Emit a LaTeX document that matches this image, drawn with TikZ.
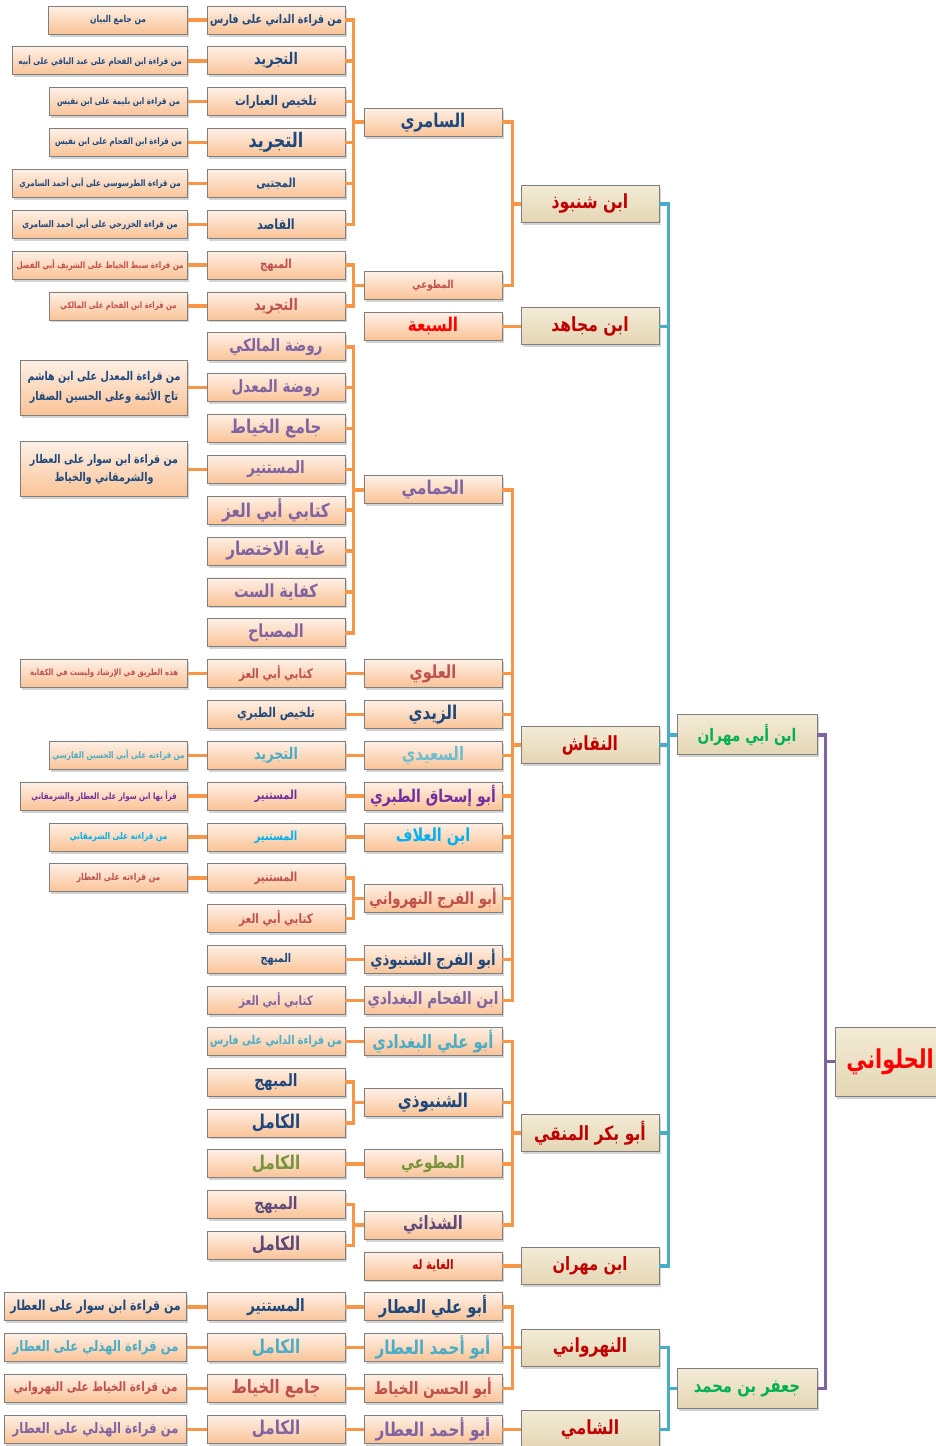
\documentclass[tikz,border=0pt]{standalone}
\usepackage{fontspec}
\newfontfamily\arabicfont[Script=Arabic, FakeStretch=0.8]{DejaVu Sans}
\TeXXeTstate=1
\usetikzlibrary{positioning, shadows}

\definecolor{darkblue}{HTML}{1F497D}
\definecolor{redc}{HTML}{C0504D}
\definecolor{lblue}{HTML}{4BACC6}
\definecolor{purp}{HTML}{8064A2}
\definecolor{vio}{HTML}{7030A0}
\definecolor{cyanc}{HTML}{00B0F0}
\definecolor{grn}{HTML}{77933C}
\definecolor{dpurp}{HTML}{5F497A}
\definecolor{dred}{HTML}{C00000}
\definecolor{brred}{HTML}{FF0000}
\definecolor{grnb}{HTML}{00B050}
\definecolor{lineO}{HTML}{F79646}
\definecolor{lineB}{HTML}{4BACC6}
\definecolor{lineP}{HTML}{8064A2}
\definecolor{peachtop}{HTML}{FEF0E6}
\definecolor{peachbot}{HTML}{FAC396}
\definecolor{papertop}{HTML}{F3EBD6}
\definecolor{paperbot}{HTML}{E4D6B4}
\definecolor{boxline}{HTML}{7F7F7F}

\newcommand{\artext}[1]{\beginR #1\endR}

\begin{document}
\begin{tikzpicture}[
    % GLOBAL CFG
    x=1pt, y=-1pt,
    font=\arabicfont\bfseries,
    % Styles
    box/.style={% peach boxes of books and readers
        rectangle,
        draw=boxline,
        line width=0.8pt,
        top color=peachtop,
        bottom color=peachbot,
        minimum width=138pt,
        minimum height=28pt,
        inner sep=0pt,
        drop shadow={opacity=.35, shadow xshift=1.5pt, shadow yshift=-2.5pt},
        },
    note/.style={% notes on the left, tied at their right side
        box,
        anchor=east,
        },
    paper/.style={% parchment boxes of the big names
        rectangle,
        draw=boxline,
        line width=0.8pt,
        top color=papertop,
        bottom color=paperbot,
        minimum width=138pt,
        minimum height=37pt,
        inner sep=0pt,
        drop shadow={opacity=.35, shadow xshift=1.5pt, shadow yshift=-2.5pt},
        },
    fsz/.style={% font size
        font=\arabicfont\bfseries\fontsize{#1}{#1}\selectfont
        },
    LinkO/.style={% orange links
        draw=lineO,
        line width=3.5pt,
        },
    LinkB/.style={% blue links
        draw=lineB,
        line width=3.5pt,
        },
    LinkP/.style={% purple links
        draw=lineP,
        line width=3.5pt,
        },
    ]

    \useasboundingbox (0,0) rectangle (936,1446);

    \newcommand{\rowh}{40.85}

    % Notes on the left
    \node[note, fsz=9.5, minimum width=139pt, text=darkblue] (nt_0) at (188,20+0*\rowh) {\artext{من جامع البيان}};
    \node[note, fsz=9, minimum width=175pt, text=darkblue] (nt_1) at (188,20+1*\rowh) {\artext{من قراءة ابن الفحام على عبد الباقي على أبيه}};
    \node[note, fsz=9, text=darkblue] (nt_2) at (188,20+2*\rowh) {\artext{من قراءة ابن بليمة على ابن نفيس}};
    \node[note, fsz=8.9, text=darkblue] (nt_3) at (188,20+3*\rowh) {\artext{من قراءة ابن الفحام على ابن نفيس}};
    \node[note, fsz=8.9, minimum width=175pt, text=darkblue] (nt_4) at (188,20+4*\rowh) {\artext{من قراءة الطرسوسي على أبي أحمد السامري}};
    \node[note, fsz=9.2, minimum width=175pt, text=darkblue] (nt_5) at (188,20+5*\rowh) {\artext{من قراءة الخزرجي على أبي أحمد السامري}};
    \node[note, fsz=8.9, minimum width=175pt, text=redc] (nt_6) at (188,20+6*\rowh) {\artext{من قراءة سبط الخياط على الشريف أبي الفضل}};
    \node[note, fsz=8.7, text=redc] (nt_7) at (188,20+7*\rowh) {\artext{من قراءة ابن الفحام على المالكي}};
    \node[note, fsz=12, minimum width=167pt, minimum height=55pt, align=center, text=darkblue] (nt_9) at (188,20+9*\rowh) {\artext{من قراءة المعدل على ابن هاشم}\\[5pt]\artext{تاج الأئمة وعلى الحسين الصفار}};
    \node[note, fsz=12, minimum width=167pt, minimum height=55pt, align=center, text=darkblue] (nt_11) at (188,20+11*\rowh) {\artext{من قراءة ابن سوار على العطار}\\[5pt]\artext{والشرمقاني والخياط}};
    \node[note, fsz=8.7, minimum width=167pt, text=redc] (nt_16) at (188,20+16*\rowh) {\artext{هذه الطريق في الإرشاد وليست في الكفاية}};
    \node[note, fsz=9, text=lblue] (nt_18) at (188,20+18*\rowh) {\artext{من قراءته على أبي الحسين الفارسي}};
    \node[note, fsz=8.8, minimum width=167pt, text=vio] (nt_19) at (188,20+19*\rowh) {\artext{قرأ بها ابن سوار على العطار والشرمقاني}};
    \node[note, fsz=9.2, text=cyanc] (nt_20) at (188,20+20*\rowh) {\artext{من قراءته على الشرمقاني}};
    \node[note, fsz=9.5, text=redc] (nt_21) at (188,20+21*\rowh) {\artext{من قراءته على العطار}};
    \node[note, fsz=13.8, minimum width=182pt, text=darkblue] (nt_31) at (187,20+31.5*\rowh) {\artext{من قراءة ابن سوار على العطار}};
    \node[note, fsz=14.5, minimum width=182pt, text=lblue] (nt_32) at (187,20+32.5*\rowh) {\artext{من قراءة الهذلي على العطار}};
    \node[note, fsz=13, minimum width=182pt, text=redc] (nt_33) at (187,20+33.5*\rowh) {\artext{من قراءة الخياط على النهرواني}};
    \node[note, fsz=14.5, minimum width=182pt, text=purp] (nt_34) at (187,20+34.5*\rowh) {\artext{من قراءة الهذلي على العطار}};

    % Books
    \node[box, fsz=12, text=darkblue] (dani_1) at (276,20+0*\rowh) {\artext{من قراءة الداني على فارس}};
    \node[box, fsz=16, text=darkblue] (tajrid_1) at (276,20+1*\rowh) {\artext{التجريد}};
    \node[box, fsz=13.4, text=darkblue] (talkhis_ib) at (276,20+2*\rowh) {\artext{تلخيص العبارات}};
    \node[box, fsz=20, text=darkblue] (tajrid_2) at (276,20+3*\rowh) {\artext{التجريد}};
    \node[box, fsz=12.5, text=darkblue] (mujtaba) at (276,20+4*\rowh) {\artext{المجتبى}};
    \node[box, fsz=14, text=darkblue] (qasid) at (276,20+5*\rowh) {\artext{القاصد}};
    \node[box, fsz=12.5, text=redc] (mubhij_1) at (276,20+6*\rowh) {\artext{المبهج}};
    \node[box, fsz=16, text=redc] (tajrid_3) at (276,20+7*\rowh) {\artext{التجريد}};
    \node[box, fsz=17, text=purp] (rawda_m) at (276,20+8*\rowh) {\artext{روضة المالكي}};
    \node[box, fsz=17, text=purp] (rawda_mu) at (276,20+9*\rowh) {\artext{روضة المعدل}};
    \node[box, fsz=19, text=purp] (jami_1) at (276,20+10*\rowh) {\artext{جامع الخياط}};
    \node[box, fsz=17, text=purp] (mustanir_1) at (276,20+11*\rowh) {\artext{المستنير}};
    \node[box, fsz=19, text=purp] (izz_1) at (276,20+12*\rowh) {\artext{كتابي أبي العز}};
    \node[box, fsz=19, text=purp] (ghaya_ikh) at (276,20+13*\rowh) {\artext{غاية الاختصار}};
    \node[box, fsz=18, text=purp] (kifaya) at (276,20+14*\rowh) {\artext{كفاية الست}};
    \node[box, fsz=18, text=purp] (misbah) at (276,20+15*\rowh) {\artext{المصباح}};
    \node[box, fsz=13, text=redc] (izz_2) at (276,20+16*\rowh) {\artext{كتابي أبي العز}};
    \node[box, fsz=13.4, text=darkblue] (talkhis_tab) at (276,20+17*\rowh) {\artext{تلخيص الطبري}};
    \node[box, fsz=16, text=lblue] (tajrid_4) at (276,20+18*\rowh) {\artext{التجريد}};
    \node[box, fsz=12.5, text=vio] (mustanir_2) at (276,20+19*\rowh) {\artext{المستنير}};
    \node[box, fsz=12.5, text=cyanc] (mustanir_3) at (276,20+20*\rowh) {\artext{المستنير}};
    \node[box, fsz=12.5, text=redc] (mustanir_4) at (276,20+21*\rowh) {\artext{المستنير}};
    \node[box, fsz=13, text=redc] (izz_3) at (276,20+22*\rowh) {\artext{كتابي أبي العز}};
    \node[box, fsz=12, text=darkblue] (mubhij_2) at (276,20+23*\rowh) {\artext{المبهج}};
    \node[box, fsz=13, text=purp] (izz_4) at (276,20+24*\rowh) {\artext{كتابي أبي العز}};
    \node[box, fsz=12, text=lblue] (dani_2) at (276,20+25*\rowh) {\artext{من قراءة الداني على فارس}};
    \node[box, fsz=17, text=darkblue] (mubhij_3) at (276,20+26*\rowh) {\artext{المبهج}};
    \node[box, fsz=19, text=darkblue] (kamil_1) at (276,20+27*\rowh) {\artext{الكامل}};
    \node[box, fsz=19, text=grn] (kamil_2) at (276,20+28*\rowh) {\artext{الكامل}};
    \node[box, fsz=17, text=dpurp] (mubhij_4) at (276,20+29*\rowh) {\artext{المبهج}};
    \node[box, fsz=19, text=dpurp] (kamil_3) at (276,20+30*\rowh) {\artext{الكامل}};
    \node[box, fsz=17, text=darkblue] (mustanir_5) at (276,20+31.5*\rowh) {\artext{المستنير}};
    \node[box, fsz=19, text=lblue] (kamil_4) at (276,20+32.5*\rowh) {\artext{الكامل}};
    \node[box, fsz=18.5, text=redc] (jami_2) at (276,20+33.5*\rowh) {\artext{جامع الخياط}};
    \node[box, fsz=19, text=purp] (kamil_5) at (276,20+34.5*\rowh) {\artext{الكامل}};

    % Readers
    \node[box, fsz=19, text=darkblue] (samiri) at (433,20+2.5*\rowh) {\artext{السامري}};
    \node[box, fsz=11, text=redc] (mutawwi_1) at (433,20+6.5*\rowh) {\artext{المطوعي}};
    \node[box, fsz=19, text=brred] (sabaa) at (433,20+7.5*\rowh) {\artext{السبعة}};
    \node[box, fsz=19, text=purp] (hammami) at (433,20+11.5*\rowh) {\artext{الحمامي}};
    \node[box, fsz=18, text=redc] (alawi) at (433,20+16*\rowh) {\artext{العلوي}};
    \node[box, fsz=19, text=darkblue] (zaydi) at (433,20+17*\rowh) {\artext{الزيدي}};
    \node[box, fsz=18.5, text=lblue!80] (saidi) at (433,20+18*\rowh) {\artext{السعيدي}};
    \node[box, fsz=17.5, text=vio] (tabari) at (433,20+19*\rowh) {\artext{أبو إسحاق الطبري}};
    \node[box, fsz=18, text=cyanc] (allaf) at (433,20+20*\rowh) {\artext{ابن العلاف}};
    \node[box, fsz=16.6, text=redc] (nahrawani_f) at (433,20+21.5*\rowh) {\artext{أبو الفرج النهرواني}};
    \node[box, fsz=16.6, text=darkblue] (shanbudhi_f) at (433,20+23*\rowh) {\artext{أبو الفرج الشنبوذي}};
    \node[box, fsz=17, text=purp] (fahham) at (433,20+24*\rowh) {\artext{ابن الفحام البغدادي}};
    \node[box, fsz=18.5, text=lblue] (baghdadi) at (433,20+25*\rowh) {\artext{أبو علي البغدادي}};
    \node[box, fsz=19, text=darkblue] (shanbudhi) at (433,20+26.5*\rowh) {\artext{الشنبوذي}};
    \node[box, fsz=17, text=grn] (mutawwi_2) at (433,20+28*\rowh) {\artext{المطوعي}};
    \node[box, fsz=18.5, text=dpurp] (shadhai) at (433,20+29.5*\rowh) {\artext{الشذائي}};
    \node[box, fsz=13, text=dred] (ghaya_lahu) at (433,20+30.5*\rowh) {\artext{الغاية له}};
    \node[box, fsz=18.4, text=darkblue] (attar_ali) at (433,20+31.5*\rowh) {\artext{أبو علي العطار}};
    \node[box, fsz=19, text=lblue] (attar_ahmad_1) at (433,20+32.5*\rowh) {\artext{أبو أحمد العطار}};
    \node[box, fsz=17, text=redc] (khayyat) at (433,20+33.5*\rowh) {\artext{أبو الحسن الخياط}};
    \node[box, fsz=19, text=purp] (attar_ahmad_2) at (433,20+34.5*\rowh) {\artext{أبو أحمد العطار}};

    % Transmitters
    \node[paper, fsz=19.5, text=dred] (ibn_shanbudh) at (590,20+4.5*\rowh) {\artext{ابن شنبوذ}};
    \node[paper, fsz=19.5, text=dred] (ibn_mujahid) at (590,20+7.5*\rowh) {\artext{ابن مجاهد}};
    \node[paper, fsz=19.5, text=dred] (naqqash) at (590,20+17.75*\rowh) {\artext{النقاش}};
    \node[paper, fsz=19.5, text=dred] (munaqqi) at (590,20+27.25*\rowh) {\artext{أبو بكر المنقي}};
    \node[paper, fsz=18.5, text=dred] (ibn_mihran) at (590,20+30.5*\rowh) {\artext{ابن مهران}};
    \node[paper, fsz=19.5, text=dred] (nahrawani) at (590,20+32.5*\rowh) {\artext{النهرواني}};
    \node[paper, fsz=19.5, text=dred] (shami) at (590,20+34.5*\rowh) {\artext{الشامي}};

    % The two ways and the root
    \node[paper, fsz=17.3, minimum width=140pt, minimum height=40pt, text=grnb] (ibn_abi_mihran) at (747,20+17.5*\rowh) {\artext{ابن أبي مهران}};
    \node[paper, fsz=18.5, minimum width=140pt, minimum height=40pt, text=grnb] (jafar) at (747,20+33.5*\rowh) {\artext{جعفر بن محمد}};
    \node[paper, fsz=26, minimum width=110pt, minimum height=69pt, text=brred] (hulwani) at (890,20+25.5*\rowh) {\artext{الحلواني}};

% Start connecting all.
    % notes to books
    \draw [LinkO] (nt_0) -- (dani_1);
    \draw [LinkO] (nt_1) -- (tajrid_1);
    \draw [LinkO] (nt_2) -- (talkhis_ib);
    \draw [LinkO] (nt_3) -- (tajrid_2);
    \draw [LinkO] (nt_4) -- (mujtaba);
    \draw [LinkO] (nt_5) -- (qasid);
    \draw [LinkO] (nt_6) -- (mubhij_1);
    \draw [LinkO] (nt_7) -- (tajrid_3);
    \draw [LinkO] (nt_9) -- (rawda_mu);
    \draw [LinkO] (nt_11) -- (mustanir_1);
    \draw [LinkO] (nt_16) -- (izz_2);
    \draw [LinkO] (nt_18) -- (tajrid_4);
    \draw [LinkO] (nt_19) -- (mustanir_2);
    \draw [LinkO] (nt_20) -- (mustanir_3);
    \draw [LinkO] (nt_21) -- (mustanir_4);
    \draw [LinkO] (nt_31) -- (mustanir_5);
    \draw [LinkO] (nt_32) -- (kamil_4);
    \draw [LinkO] (nt_33) -- (jami_2);
    \draw [LinkO] (nt_34) -- (kamil_5);

    % books to readers
    \draw [LinkO] (dani_1.east) -- ++(8,0) |- (samiri.west);
    \draw [LinkO] (tajrid_1.east) -- ++(8,0) |- (samiri.west);
    \draw [LinkO] (talkhis_ib.east) -- ++(8,0) |- (samiri.west);
    \draw [LinkO] (tajrid_2.east) -- ++(8,0) |- (samiri.west);
    \draw [LinkO] (mujtaba.east) -- ++(8,0) |- (samiri.west);
    \draw [LinkO] (qasid.east) -- ++(8,0) |- (samiri.west);
    \draw [LinkO] (mubhij_1.east) -- ++(8,0) |- (mutawwi_1.west);
    \draw [LinkO] (tajrid_3.east) -- ++(8,0) |- (mutawwi_1.west);
    \draw [LinkO] (rawda_m.east) -- ++(8,0) |- (hammami.west);
    \draw [LinkO] (rawda_mu.east) -- ++(8,0) |- (hammami.west);
    \draw [LinkO] (jami_1.east) -- ++(8,0) |- (hammami.west);
    \draw [LinkO] (mustanir_1.east) -- ++(8,0) |- (hammami.west);
    \draw [LinkO] (izz_1.east) -- ++(8,0) |- (hammami.west);
    \draw [LinkO] (ghaya_ikh.east) -- ++(8,0) |- (hammami.west);
    \draw [LinkO] (kifaya.east) -- ++(8,0) |- (hammami.west);
    \draw [LinkO] (misbah.east) -- ++(8,0) |- (hammami.west);
    \draw [LinkO] (izz_2) -- (alawi);
    \draw [LinkO] (talkhis_tab) -- (zaydi);
    \draw [LinkO] (tajrid_4) -- (saidi);
    \draw [LinkO] (mustanir_2) -- (tabari);
    \draw [LinkO] (mustanir_3) -- (allaf);
    \draw [LinkO] (mustanir_4.east) -- ++(8,0) |- (nahrawani_f.west);
    \draw [LinkO] (izz_3.east) -- ++(8,0) |- (nahrawani_f.west);
    \draw [LinkO] (mubhij_2) -- (shanbudhi_f);
    \draw [LinkO] (izz_4) -- (fahham);
    \draw [LinkO] (dani_2) -- (baghdadi);
    \draw [LinkO] (mubhij_3.east) -- ++(8,0) |- (shanbudhi.west);
    \draw [LinkO] (kamil_1.east) -- ++(8,0) |- (shanbudhi.west);
    \draw [LinkO] (kamil_2) -- (mutawwi_2);
    \draw [LinkO] (mubhij_4.east) -- ++(8,0) |- (shadhai.west);
    \draw [LinkO] (kamil_3.east) -- ++(8,0) |- (shadhai.west);
    \draw [LinkO] (mustanir_5) -- (attar_ali);
    \draw [LinkO] (kamil_4) -- (attar_ahmad_1);
    \draw [LinkO] (jami_2) -- (khayyat);
    \draw [LinkO] (kamil_5) -- (attar_ahmad_2);

    % readers to transmitters
    \draw [LinkO] (samiri.east) -- ++(10,0) |- (ibn_shanbudh.west);
    \draw [LinkO] (mutawwi_1.east) -- ++(10,0) |- (ibn_shanbudh.west);
    \draw [LinkO] (sabaa) -- (ibn_mujahid);
    \draw [LinkO] (hammami.east) -- ++(10,0) |- (naqqash.west);
    \draw [LinkO] (alawi.east) -- ++(10,0) |- (naqqash.west);
    \draw [LinkO] (zaydi.east) -- ++(10,0) |- (naqqash.west);
    \draw [LinkO] (saidi.east) -- ++(10,0) |- (naqqash.west);
    \draw [LinkO] (tabari.east) -- ++(10,0) |- (naqqash.west);
    \draw [LinkO] (allaf.east) -- ++(10,0) |- (naqqash.west);
    \draw [LinkO] (nahrawani_f.east) -- ++(10,0) |- (naqqash.west);
    \draw [LinkO] (shanbudhi_f.east) -- ++(10,0) |- (naqqash.west);
    \draw [LinkO] (fahham.east) -- ++(10,0) |- (naqqash.west);
    \draw [LinkO] (baghdadi.east) -- ++(10,0) |- (munaqqi.west);
    \draw [LinkO] (shanbudhi.east) -- ++(10,0) |- (munaqqi.west);
    \draw [LinkO] (mutawwi_2.east) -- ++(10,0) |- (munaqqi.west);
    \draw [LinkO] (shadhai.east) -- ++(10,0) |- (munaqqi.west);
    \draw [LinkO] (ghaya_lahu) -- (ibn_mihran);
    \draw [LinkO] (attar_ali.east) -- ++(10,0) |- (nahrawani.west);
    \draw [LinkO] (attar_ahmad_1.east) -- ++(10,0) |- (nahrawani.west);
    \draw [LinkO] (khayyat.east) -- ++(10,0) |- (nahrawani.west);
    \draw [LinkO] (attar_ahmad_2) -- (shami);

    % transmitters to the two ways
    \draw [LinkB] (ibn_shanbudh.east) -- ++(9,0) |- (ibn_abi_mihran.west);
    \draw [LinkB] (ibn_mujahid.east) -- ++(9,0) |- (ibn_abi_mihran.west);
    \draw [LinkB] (naqqash.east) -- ++(9,0) |- (ibn_abi_mihran.west);
    \draw [LinkB] (munaqqi.east) -- ++(9,0) |- (ibn_abi_mihran.west);
    \draw [LinkB] (ibn_mihran.east) -- ++(9,0) |- (ibn_abi_mihran.west);
    \draw [LinkB] (nahrawani.east) -- ++(9,0) |- (jafar.west);
    \draw [LinkB] (shami.east) -- ++(9,0) |- (jafar.west);

    % the two ways to the root
    \draw [LinkP] (ibn_abi_mihran.east) -- ++(8,0) |- (hulwani.west);
    \draw [LinkP] (jafar.east) -- ++(8,0) |- (hulwani.west);

\end{tikzpicture}
\end{document}
